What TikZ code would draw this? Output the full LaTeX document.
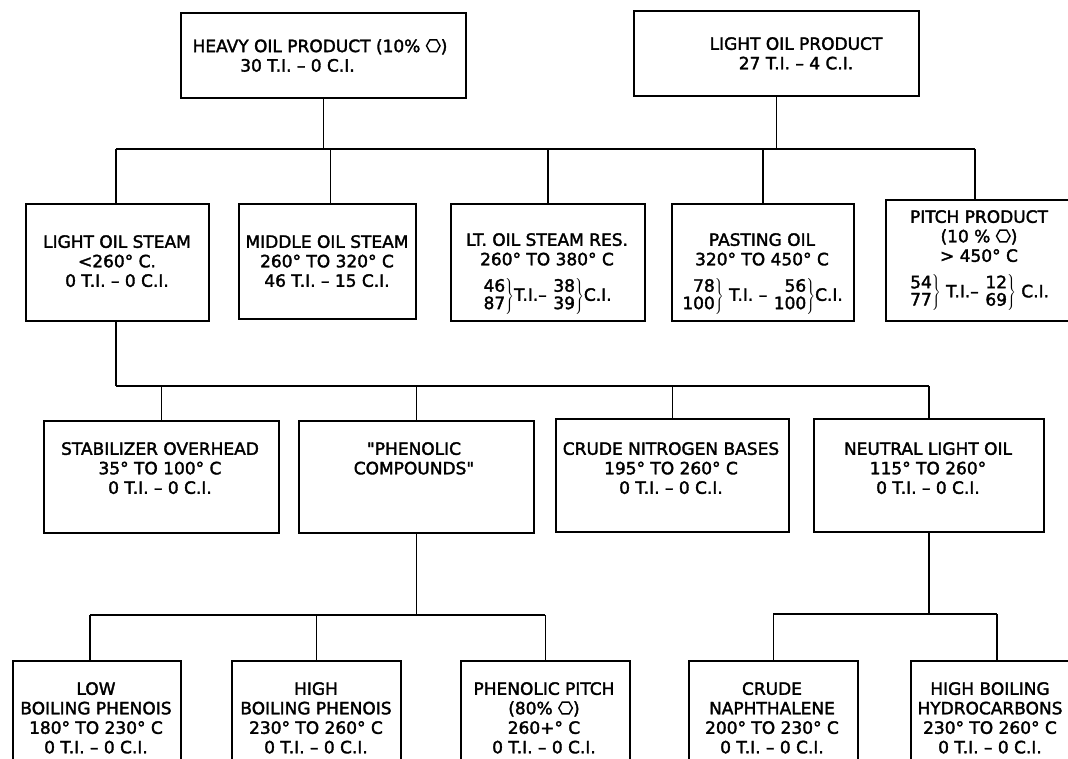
\documentclass[tikz,border=0pt]{standalone}
\usepackage{fontspec}
\setmainfont{DejaVu Sans}[FakeBold=2]
\usetikzlibrary{calc}
\newcommand{\hexa}{\tikz[baseline={(0,-0.37em)}]\draw[line width=1.4pt] (0:0.40em) -- (60:0.40em) -- (120:0.40em) -- (180:0.40em) -- (240:0.40em) -- (300:0.40em) -- cycle;}
\newcommand{\stk}[2]{$\left.\begin{tabular}{@{}r@{}}#1\\#2\end{tabular}\right\}$}
\newcommand{\brl}[1]{\raisebox{-16pt}{#1}}
\newcommand{\sq}{\XeTeXglyph\XeTeXcharglyph34\relax}
\renewcommand{\arraystretch}{0.82}
\begin{document}
\begin{tikzpicture}[x=1pt,y=-1pt,
  box/.style={draw, line width=1.8pt, inner sep=0pt, anchor=north west},
  txt/.style={align=center, inner sep=0pt, anchor=north, font=\fontsize{17}{19.5}\selectfont},
  conn/.style={line width=1.8pt}]
\clip (0,0) rectangle (1068,759);
\fill[white] (0,0) rectangle (1068,759);

% ---- row 1
\node[box, minimum width=285, minimum height=85] (heavy) at (180,12) {};
\node[box, minimum width=285, minimum height=85] (light) at (633,10) {};
\node[txt] (heavy-t) at (320,39) {HEAVY OIL PRODUCT (10\% \hexa)\\30 T.I. – 0 C.I.\rule{45pt}{0pt}};
\node[txt] (light-t) at (796,37) {LIGHT OIL PRODUCT\\27 T.I. – 4 C.I.};

% ---- row 2
\node[box, minimum width=183, minimum height=117] (los) at (25,203) {};
\node[box, minimum width=177, minimum height=115] (mos) at (238,203) {};
\node[box, minimum width=194, minimum height=117] (ltr) at (450,203) {};
\node[box, minimum width=182, minimum height=117] (po) at (671,203) {};
\node[box, minimum width=200, minimum height=121] (pp) at (885,199) {};
\node[txt] (los-t) at (117,235) {LIGHT OIL STEAM\\<260° C.\\0 T.I. – 0 C.I.};
\node[txt] (mos-t) at (327,235) {MIDDLE OIL STEAM\\260° TO 320° C\\46 T.I. – 15 C.I.};
\node[txt] (ltr-t) at (547,233) {LT. OIL STEAM RES.\\260° TO 380° C\\\brl{\stk{46}{87}T.I.– \stk{38}{39}C.I.}};
\node[txt] (po-t) at (762,233) {PASTING OIL\\320° TO 450° C\\\brl{\stk{78}{100} T.I. – \stk{56}{100}C.I.}};
\node[txt] (pp-t) at (979,210) {PITCH PRODUCT\\(10 \% \hexa)\\> 450° C\\\brl{\stk{54}{77} T.I.– \stk{12}{69} C.I.}};

% ---- row 3
\node[box, minimum width=235, minimum height=112] (so) at (43,420) {};
\node[box, minimum width=235, minimum height=112] (pc) at (298,420) {};
\node[box, minimum width=233, minimum height=113] (cnb) at (555,418) {};
\node[box, minimum width=230, minimum height=113] (nlo) at (813,418) {};
\node[txt] (so-t) at (160,442) {STABILIZER OVERHEAD\\35° TO 100° C\\0 T.I. – 0 C.I.};
\node[txt] (pc-t) at (414,442) {\sq PHENOLIC\\COMPOUNDS\sq};
\node[txt] (cnb-t) at (671,442) {CRUDE NITROGEN BASES\\195° TO 260° C\\0 T.I. – 0 C.I.};
\node[txt] (nlo-t) at (928,442) {NEUTRAL LIGHT OIL\\115° TO 260°\\0 T.I. – 0 C.I.};

% ---- row 4
\node[box, minimum width=168, minimum height=120] (lbp) at (12,660) {};
\node[box, minimum width=169, minimum height=120] (hbp) at (231,660) {};
\node[box, minimum width=169, minimum height=120] (ppi) at (460,660) {};
\node[box, minimum width=169, minimum height=120] (cn) at (688,660) {};
\node[box, minimum width=180, minimum height=120] (hbh) at (910,660) {};
\node[txt] (lbp-t) at (96,682) {LOW\\BOILING PHENOIS\\180° TO 230° C\\0 T.I. – 0 C.I.};
\node[txt] (hbp-t) at (316,682) {HIGH\\BOILING PHENOIS\\230° TO 260° C\\0 T.I. – 0 C.I.};
\node[txt] (ppi-t) at (544,682) {PHENOLIC PITCH\\(80\% \hexa)\\260+° C\\0 T.I. – 0 C.I.};
\node[txt] (cn-t) at (772,682) {CRUDE\\NAPHTHALENE\\200° TO 230° C\\0 T.I. – 0 C.I.};
\node[txt] (hbh-t) at (990,682) {HIGH BOILING\\HYDROCARBONS\\230° TO 260° C\\0 T.I. – 0 C.I.};

% ---- connectors: top bus
\coordinate (b1l) at (116,149);
\coordinate (b1r) at ($(pp.north west)+(90,-50)$);
\coordinate (s-mos) at ($(mos.north)+(3,0)$);
\draw[conn] (heavy.south) -- (heavy.south |- b1l);
\draw[conn] (light.south) -- (light.south |- b1l);
\draw[conn] (b1l) -- (b1r);
\draw[conn] (b1l) -- (b1l |- los.north);
\draw[conn] (s-mos) -- (s-mos |- b1l);
\draw[conn] (ltr.north) -- (ltr.north |- b1l);
\draw[conn] (po.north) -- (po.north |- b1l);
\draw[conn] (b1r) -- (b1r |- pp.north);

% ---- middle bus
\coordinate (b2l) at (116,386);
\coordinate (b2r) at (nlo.north |- b2l);
\draw[conn] (b2l |- los.south) -- (b2l);
\draw[conn] (b2l) -- (b2r);
\draw[conn] (so.north) -- (so.north |- b2l);
\draw[conn] (pc.north) -- (pc.north |- b2l);
\draw[conn] (cnb.north) -- (cnb.north |- b2l);
\draw[conn] (nlo.north) -- (b2r);

% ---- phenolic bus
\coordinate (b3l) at (90,615);
\coordinate (b3r) at (ppi.north |- b3l);
\draw[conn] (pc.south) -- (pc.south |- b3l);
\draw[conn] (b3l) -- (b3r);
\draw[conn] (b3l) -- (b3l |- lbp.north);
\draw[conn] (hbp.north) -- (hbp.north |- b3l);
\draw[conn] (ppi.north) -- (b3r);

% ---- neutral bus
\coordinate (b4l) at (cn.north |- 0,614);
\coordinate (b4r) at ($(hbh.north west)+(87,-46)$);
\draw[conn] (nlo.south) -- (nlo.south |- b4l);
\draw[conn] (b4l) -- (b4r);
\draw[conn] (cn.north) -- (b4l);
\draw[conn] (b4r) -- (b4r |- hbh.north);
\end{tikzpicture}
\end{document}
